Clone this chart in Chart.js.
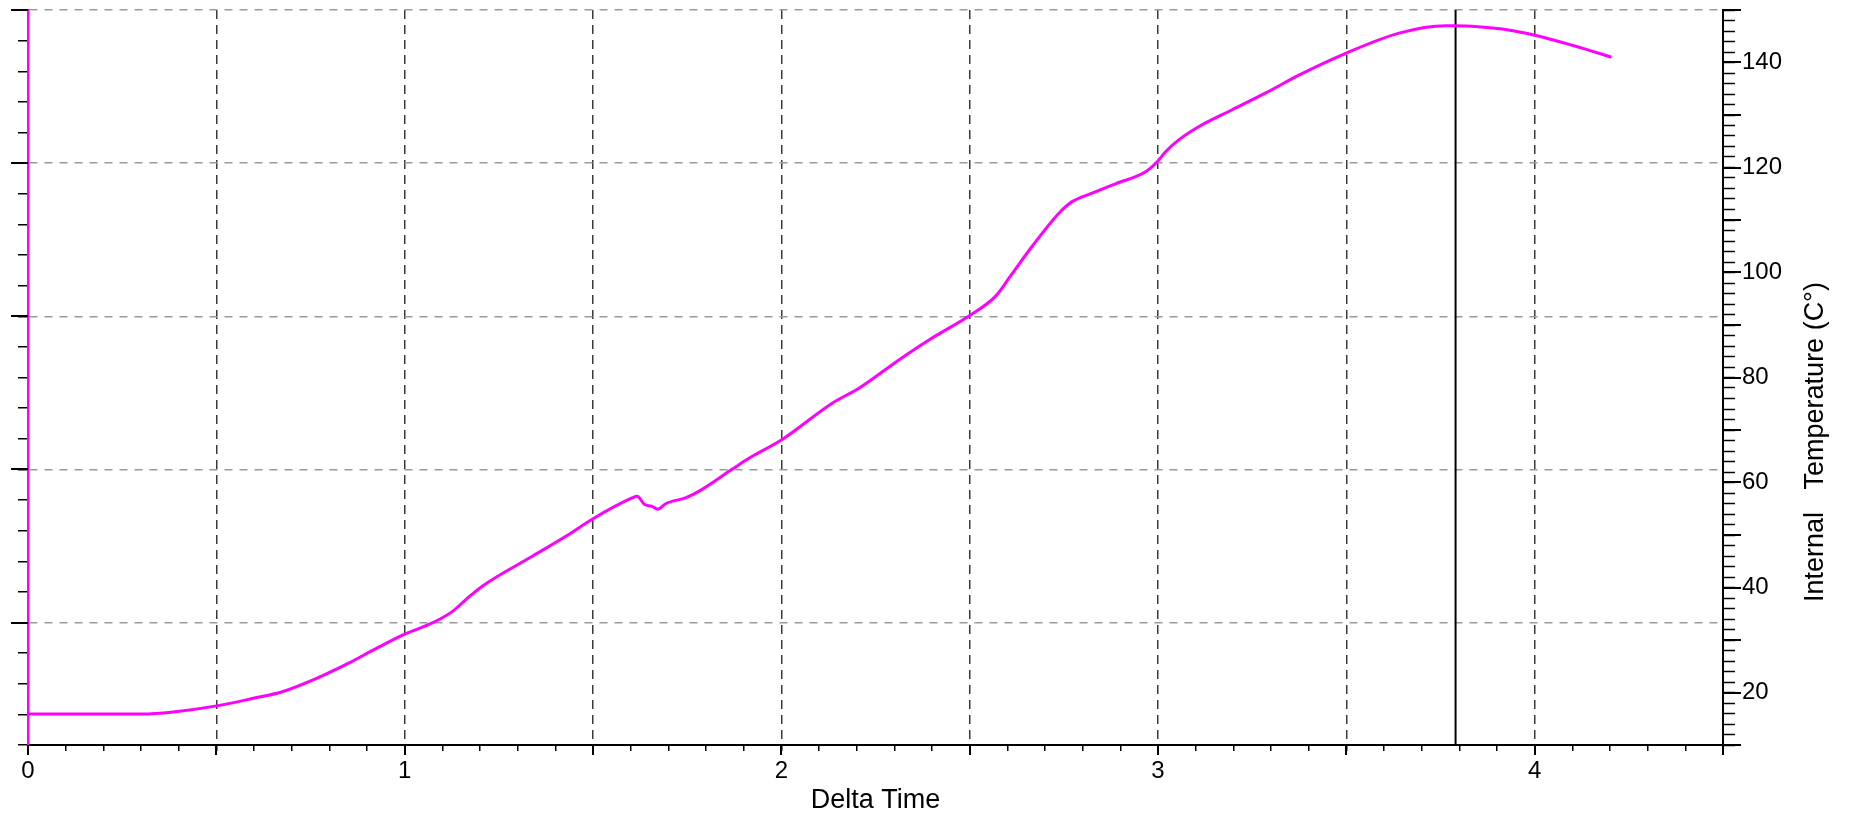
<!DOCTYPE html>
<html>
<head>
<meta charset="utf-8">
<script src="https://cdn.jsdelivr.net/npm/chart.js@4.4.1/dist/chart.umd.min.js"></script>
<style>
  html, body { margin: 0; padding: 0; background: #fff; }
  #chart { display: block; }
</style>
</head>
<body>
<canvas id="chart" width="1850" height="817"></canvas>
<script>
// values
var TIME = [0, 0.305, 0.385, 0.505, 0.598, 0.677, 0.766, 0.854, 0.925, 1.0,
  1.075, 1.128, 1.164, 1.207, 1.34, 1.429, 1.5, 1.605, 1.617, 1.637,
  1.655, 1.672, 1.694, 1.747, 1.783, 1.871, 1.916, 2.0, 2.137, 2.207,
  2.313, 2.393, 2.5, 2.569, 2.608, 2.666, 2.737, 2.772, 2.825, 2.887,
  2.967, 2.998, 3.02, 3.056, 3.109, 3.197, 3.286, 3.374, 3.5, 3.64,
  3.764, 3.79, 3.85, 3.93, 4.0, 4.128, 4.204];
var TEMP = [15.9, 15.9, 16.3, 17.5, 18.9, 20.2, 22.7, 25.7, 28.4, 31.1,
  33.3, 35.5, 37.8, 40.3, 46.0, 49.8, 53.1, 57.1, 57.4, 55.8,
  55.5, 54.9, 56.0, 57.1, 58.4, 62.6, 64.7, 68.1, 75.2, 78.0,
  83.4, 87.2, 91.8, 95.5, 99.3, 105.0, 111.3, 113.5, 115.1, 116.9,
  119.2, 121.1, 123.0, 125.3, 127.8, 131.0, 134.2, 137.6, 141.8, 145.6,
  147.0, 147.0, 146.8, 146.2, 145.2, 142.7, 141.0];
var CURSOR_TIME = 3.79;

var X_LABELS = [0, 1, 2, 3, 4];
var RIGHT_LABELS = [20, 40, 60, 80, 100, 120, 140];
var LEFT_MAJOR = [4, 9, 14, 19, 24];

var X_TITLE = 'Delta Time';
var Y_TITLE = 'Internal   Temperature (C\u00B0)';

var FONT = "'Liberation Sans', Arial, sans-serif";
var MAGENTA = '#ff00ff';

function near(v, list) {
  for (var i = 0; i < list.length; i++) {
    if (Math.abs(v - list[i]) < 1e-6) return true;
  }
  return false;
}
function onStep(v, step) {
  var k = v / step;
  return Math.abs(k - Math.round(k)) < 1e-6;
}

var points = TIME.map(function(t, i) { return { x: t, y: TEMP[i] }; });
var cursor = [{ x: CURSOR_TIME, y: 10 }, { x: CURSOR_TIME, y: 150 }];

// longer tick marks + right axis title (reads bottom to top)
var extras = {
  id: 'extras',
  afterDraw: function(chart) {
    var ctx = chart.ctx, a = chart.chartArea;
    var sx = chart.scales.x, sl = chart.scales.y, sr = chart.scales.y2;
    ctx.save();
    ctx.strokeStyle = '#000';
    ctx.lineWidth = 2;
    ctx.beginPath();
    sx.ticks.forEach(function(t) {
      if (!onStep(t.value, 0.5)) return;
      var px = Math.round(sx.getPixelForValue(t.value));
      ctx.moveTo(px, a.bottom);
      ctx.lineTo(px, a.bottom + 10);
    });
    LEFT_MAJOR.forEach(function(v) {
      var py = Math.round(sl.getPixelForValue(v));
      ctx.moveTo(a.left - 17, py);
      ctx.lineTo(a.left, py);
    });
    sr.ticks.forEach(function(t) {
      if (!onStep(t.value, 10)) return;
      var py = Math.round(sr.getPixelForValue(t.value));
      ctx.moveTo(a.right, py);
      ctx.lineTo(a.right + 18, py);
    });
    ctx.stroke();

    ctx.translate(a.right + 100, a.bottom - 143);
    ctx.rotate(-Math.PI / 2);
    ctx.fillStyle = '#000';
    ctx.font = '27px ' + FONT;
    ctx.textAlign = 'left';
    ctx.textBaseline = 'alphabetic';
    ctx.fillText(Y_TITLE, 0, 0);
    ctx.restore();
  }
};

new Chart(document.getElementById('chart'), {
  type: 'line',
  data: {
    datasets: [{
      label: 'Internal Temperature',
      data: points,
      yAxisID: 'y2',
      borderColor: MAGENTA,
      borderWidth: 3,
      pointRadius: 0,
      cubicInterpolationMode: 'monotone',
    }, {
      label: 'Cursor',
      data: cursor,
      yAxisID: 'y2',
      borderColor: '#000',
      borderWidth: 2,
      pointRadius: 0,
    }],
  },
  options: {
    responsive: false,
    animation: false,
    layout: { padding: { top: 10, left: 0, right: 0, bottom: 0 } },
    plugins: {
      legend: { display: false },
      tooltip: { enabled: false },
    },
    scales: {
      x: {
        type: 'linear',
        position: 'bottom',
        min: 0,
        max: 4.5,
        afterFit: function(s) { s.height = 72; s.paddingLeft = 0; s.paddingRight = 0; },
        ticks: {
          stepSize: 0.1,
          autoSkip: false,
          maxRotation: 0,
          maxTicksLimit: 200,
          padding: 6,
          color: '#000',
          font: { family: FONT, size: 24 },
          callback: function(v) { return near(v, X_LABELS) ? String(Math.round(v)) : ''; },
        },
        grid: {
          color: function(c) {
            var v = c.tick ? c.tick.value : 0;
            if (v <= 0 || v >= 4.5) return 'rgba(0,0,0,0)';
            return onStep(v, 0.5) ? '#3a3a3a' : 'rgba(0,0,0,0)';
          },
          lineWidth: 1.5,
          tickColor: '#000',
          tickLength: 6,
          tickWidth: 1.5,
        },
        border: { color: '#000', width: 2, dash: [9, 6] },
        title: {
          display: true,
          text: X_TITLE,
          color: '#000',
          font: { family: FONT, size: 27 },
          padding: { top: 0, bottom: 0 },
        },
      },
      y: {
        type: 'linear',
        position: 'left',
        min: 0,
        max: 24,
        afterFit: function(s) { s.width = 28; s.paddingTop = 0; s.paddingBottom = 0; },
        ticks: { display: false, stepSize: 1, autoSkip: false, maxTicksLimit: 200 },
        grid: {
          color: function(c) {
            var v = c.tick ? c.tick.value : 0;
            return near(v, LEFT_MAJOR) ? '#9a9a9a' : 'rgba(0,0,0,0)';
          },
          lineWidth: 1.5,
          tickColor: '#000',
          tickLength: 10,
          tickWidth: 1.5,
        },
        border: { color: MAGENTA, width: 2.5, dash: [8, 7] },
      },
      y2: {
        type: 'linear',
        position: 'right',
        min: 10,
        max: 150,
        afterFit: function(s) { s.width = 127; s.paddingTop = 0; s.paddingBottom = 0; },
        ticks: {
          stepSize: 2,
          autoSkip: false,
          maxTicksLimit: 200,
          padding: 7,
          color: '#000',
          font: { family: FONT, size: 24 },
          callback: function(v) { return near(v, RIGHT_LABELS) ? String(Math.round(v)) : ''; },
        },
        grid: {
          drawOnChartArea: false,
          tickColor: '#000',
          tickLength: 12,
          tickWidth: 1.5,
        },
        border: { color: '#000', width: 2 },
      },
    },
  },
  plugins: [extras],
});
</script>
</body>
</html>
